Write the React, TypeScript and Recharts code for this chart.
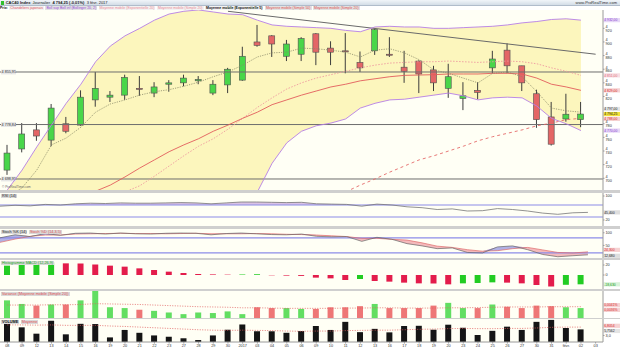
import React from 'react';
import { ComposedChart, Bar, Line, Area, XAxis, YAxis, ReferenceLine, Cell } from 'recharts';

// trading days, the last slot ("03") stays empty like in the original
const dayLabels = ['08', '09', '12', '13', '14', '15', '16', '19', '20', '21', '22', '23', '27', '28', '29', '30', '2017', '03', '04', '05', '06', '09', '10', '11', '12', '13', '16', '17', '18', '19', '20', '23', '24', '25', '26', '27', '30', '31', 'févr.', '02', '03'];

const opens = [4712, 4743, 4771, 4756, 4780, 4778, 4815, 4819, 4822, 4832, 4825, 4838, 4840, 4843, 4825, 4837, 4844, 4900, 4909, 4879, 4882, 4912, 4891, 4887, 4870, 4887, 4882, 4863, 4872, 4859, 4832, 4817, 4829, 4862, 4888, 4865, 4824, 4790, 4787, 4786];
const closes = [4737, 4765, 4762, 4803, 4769, 4819, 4832, 4822, 4848, 4831, 4834, 4840, 4847, 4845, 4838, 4860, 4879, 4895, 4897, 4897, 4905, 4885, 4885, 4886, 4862, 4918, 4881, 4857, 4853, 4840, 4849, 4821, 4826, 4875, 4865, 4840, 4786, 4750, 4794, 4794.25];
const highs = [4749, 4781, 4781, 4809, 4790, 4829, 4856, 4828, 4852, 4850, 4841, 4844, 4852, 4850, 4844, 4862, 4893, 4925, 4910, 4903, 4907, 4913, 4901, 4913, 4886, 4920, 4907, 4887, 4873, 4865, 4868, 4841, 4841, 4887, 4898, 4865, 4830, 4812, 4824, 4812];
const lows = [4705, 4738, 4755, 4747, 4766, 4777, 4805, 4812, 4815, 4821, 4819, 4827, 4835, 4838, 4822, 4825, 4843, 4893, 4878, 4872, 4872, 4866, 4866, 4854, 4856, 4881, 4878, 4840, 4825, 4828, 4818, 4800, 4816, 4854, 4854, 4828, 4774, 4748, 4783, 4775];

const bbUpper = [4683, 4712, 4746, 4778, 4810, 4838, 4871, 4894, 4909, 4920, 4932, 4941, 4945, 4947, 4944, 4941, 4940, 4932, 4925, 4923, 4922, 4921, 4920, 4917, 4915, 4922, 4923, 4922, 4922, 4920, 4920, 4921, 4922, 4923, 4925, 4928, 4930, 4933, 4934, 4932];
const bbMiddle = [4590, 4600, 4612, 4625, 4637, 4650, 4662, 4672, 4680, 4689, 4703, 4718, 4733, 4747, 4758, 4772, 4788, 4804, 4818, 4831, 4840, 4847, 4852, 4857, 4862, 4866, 4869, 4870, 4871, 4871, 4872, 4871, 4870, 4871, 4872, 4871, 4868, 4862, 4857, 4851];
const bbLower = [4497, 4488, 4478, 4472, 4464, 4462, 4453, 4450, 4451, 4458, 4474, 4495, 4521, 4547, 4572, 4603, 4636, 4680, 4722, 4752, 4769, 4777, 4781, 4787, 4803, 4810, 4815, 4816, 4819, 4822, 4825, 4821, 4815, 4818, 4819, 4818, 4806, 4788, 4780, 4770];
const ema20 = [4620, 4632, 4643, 4655, 4664, 4674, 4681, 4690, 4702, 4715, 4727, 4739, 4749, 4758, 4769, 4778, 4788, 4797, 4808, 4815, 4822, 4828, 4834, 4838, 4843, 4846, 4849, 4851, 4851.5, 4852, 4853, 4853, 4853, 4854, 4854, 4853, 4847, 4838, 4834, 4829];
const ema5 = [4672, 4686, 4712, 4749, 4759, 4775, 4797, 4809, 4815, 4822, 4827, 4830, 4835, 4841, 4849, 4856, 4866, 4878, 4884, 4885, 4891, 4890, 4888, 4885, 4878, 4888, 4890, 4884, 4874, 4859, 4854, 4847, 4840, 4854, 4856, 4849, 4827, 4803, 4799, 4797];
const sma50 = [null, null, null, null, null, null, null, null, null, null, null, null, null, null, null, null, null, null, null, null, null, null, null, 4680, 4690, 4699, 4709, 4718, 4727, 4733, 4740, 4747, 4755, 4761, 4766, 4771, 4777, 4781, 4786, 4788];

const levels = [4855.95, 4778.84, 4698.95];
const priceTicks = [4700, 4720, 4740, 4760, 4780, 4820, 4840, 4860, 4880, 4900, 4920];

const rsi = [66, 69, 67, 72, 70, 74, 76, 75, 77, 76, 76, 77, 78, 77, 74, 77, 80, 80, 79, 78, 79, 74, 73, 72, 66, 73, 70, 64, 61, 55, 57, 50, 51, 58, 55, 50, 43, 39, 44, 45.4];
const stochK = [80, 92, 85, 97, 90, 98, 99, 95, 99, 96, 95, 98, 99, 98, 92, 97, 99, 96, 93, 92, 95, 86, 84, 85, 66, 82, 74, 57, 48, 37, 40, 22, 20, 44, 48, 33, 14, 5, 9, 12.68];
const stochD = [62, 75, 86, 91, 91, 95, 96, 97, 98, 97, 97, 96, 97, 98, 96, 96, 96, 97, 96, 94, 93, 91, 88, 85, 78, 78, 74, 71, 60, 47, 42, 33, 27, 29, 37, 42, 32, 22, 20, 24.3];
const macdHist = [18.7, 21.3, 22, 25.3, 23.3, 23, 21, 18.7, 16.7, 13.3, 10, 6.7, 4, 2, 1.2, 0.7, 1.0, 1.3, -0.6, -1.2, -1.8, -5.3, -6.7, -10, -8, -12, -13.3, -15.3, -16.7, -17, -18.7, -16.7, -16, -14.7, -15.3, -16.7, -20, -23, -19.6, -18.63];
const variance = [0.0064, 0.0051, 0.0045, 0.0049, 0.0049, 0.0064, 0.0101, 0.0039, 0.0036, 0.003, 0.0026, 0.002, 0.0014, 0.002, 0.0018, 0.0024, 0.0014, 0.0039, 0.0036, 0.0036, 0.0033, 0.0033, 0.0039, 0.0039, 0.0043, 0.0051, 0.0036, 0.0036, 0.0036, 0.0045, 0.0055, 0.0036, 0.0036, 0.0049, 0.0041, 0.0036, 0.0045, 0.0043, 0.0039, 0.0036];
const varianceAvg = [0.0047, 0.0047, 0.0047, 0.0048, 0.0048, 0.0049, 0.0052, 0.0051, 0.005, 0.0049, 0.0047, 0.0045, 0.0043, 0.0041, 0.004, 0.0039, 0.0037, 0.0037, 0.0036, 0.0035, 0.0035, 0.0035, 0.0035, 0.0036, 0.0036, 0.0037, 0.0037, 0.0036, 0.0036, 0.0036, 0.0037, 0.0037, 0.0038, 0.0039, 0.004, 0.004, 0.004, 0.0041, 0.0041, 0.0041];
const volume = [8.6, 6.7, 3.8, 9.7, 3.5, 8.3, 8.2, 2.1, 5.5, 4.2, 3.0, 2.4, 1.7, 0.9, 3.0, 5.6, 8.0, 4.9, 4.9, 4.2, 5.0, 7.3, 5.5, 9.2, 4.5, 6.0, 4.4, 7.3, 7.4, 5.6, 7.9, 6.5, 3.2, 5.1, 7.0, 5.5, 9.2, 10.1, 6.4, 5.7562];
const volumeAvg = [7.8, 7.8, 7.7, 7.8, 7.6, 7.6, 7.6, 7.3, 7.1, 6.8, 6.5, 6.2, 5.9, 5.6, 5.4, 5.3, 5.4, 5.3, 5.2, 5.0, 4.9, 5.0, 5.0, 5.2, 5.3, 5.4, 5.4, 5.6, 5.8, 5.9, 6.1, 6.2, 6.1, 6.1, 6.2, 6.2, 6.4, 6.7, 6.8, 6.8054];

const PLOT_W = 603;
const FONT = '"Liberation Sans", Arial, sans-serif';
const last = 39;

const fr = (v: number, d = 2) => {
  const [i, f] = Math.abs(v).toFixed(d).split('.');
  return (v < 0 ? '-' : '') + i.replace(/\B(?=(\d{3})+(?!\d))/g, ' ') + (f ? ',' + f : '');
};

const rows = dayLabels.map((label, i) => ({
  idx: i,
  label,
  open: opens[i],
  high: highs[i],
  low: lows[i],
  close: closes[i],
  bbUp: bbUpper[i],
  bbMid: bbMiddle[i],
  bbLow: bbLower[i],
  ema20: ema20[i],
  ema5: ema5[i],
  sma50: sma50[i] ?? undefined,
  rsi: rsi[i],
  k: stochK[i],
  d: stochD[i],
  macd: macdHist[i],
  vari: variance[i],
  variAvg: varianceAvg[i],
  vol: volume[i],
  volAvg: volumeAvg[i],
}));

const Candle = (props: any) => {
  const { x, y, width, height, payload } = props;
  if (!payload || payload.open == null || x == null) return null;
  const { open, close, high, low } = payload;
  const top = Math.min(y, y + height);
  const h = Math.abs(height);
  const ppu = high === low ? 0 : h / (high - low);
  const cx = x + width / 2;
  const bodyTop = top + (high - Math.max(open, close)) * ppu;
  const bodyH = Math.max(1, Math.abs(open - close) * ppu);
  const up = close >= open;
  return (
    <g>
      <line x1={cx} x2={cx} y1={top} y2={top + h} stroke="#3c3c3c" strokeWidth={1} />
      <rect x={cx - 3} y={bodyTop} width={6} height={bodyH} fill={up ? '#49d649' : '#e46666'} stroke="#505050" strokeWidth={0.6} />
    </g>
  );
};

// value tag drawn in the right axis column (dy nudges crowded tags apart)
const Badge = ({ viewBox, text, bg, color, dy = 0 }: any) => {
  if (!viewBox) return null;
  const x = viewBox.x + viewBox.width + 0.5;
  const y = viewBox.y + dy;
  return (
    <g>
      <rect x={x} y={y - 2.1} width={16.5} height={4.2} fill={bg} />
      <text x={x + 0.7} y={y + 1.25} fontSize={3.4} fill={color} fontFamily={FONT}>{text}</text>
    </g>
  );
};

const LevelTag = ({ viewBox, text }: any) => {
  if (!viewBox) return null;
  return (
    <g>
      <rect x={viewBox.x + 1} y={viewBox.y - 2.4} width={15} height={4.8} fill="#e6e6e6" />
      <text x={viewBox.x + 1.6} y={viewBox.y + 1.4} fontSize={3.7} fill="#333" fontFamily={FONT}>{text}</text>
    </g>
  );
};

const axisProps = {
  orientation: 'right' as const,
  width: 17,
  allowDataOverflow: true,
  tick: { fontSize: 3.8, fill: '#333', fontFamily: FONT },
  tickSize: 1.5,
  tickMargin: 1,
  axisLine: { stroke: '#9a9a9a' },
  tickLine: { stroke: '#9a9a9a' },
};
const margin = { top: 0, right: 0, bottom: 0, left: 0 };

function Panel({ top, height, plotH, children }: any) {
  return (
    <div style={{ position: 'absolute', left: 0, top, width: 620, height, background: '#ffffff' }}>
      <div style={{ position: 'absolute', left: 0, top: 0, width: PLOT_W, height: plotH ?? height, background: '#fffff5' }} />
      <div style={{ position: 'absolute', left: 0, top: 0 }}>{children}</div>
    </div>
  );
}

const tagStyle = (color: string, bg = '#d9d9d9'): React.CSSProperties => ({
  background: bg,
  color,
  padding: '0 1px',
  marginRight: 1.5,
});

function PanelTitle({ top, children }: any) {
  return (
    <div style={{ position: 'absolute', left: 1, top, fontSize: 3.8, lineHeight: '4.6px', whiteSpace: 'nowrap', fontFamily: FONT }}>
      {children}
    </div>
  );
}

export default function App() {
  const priceBand = (r: any) => (r.bbUp == null ? null : [r.bbLow, r.bbUp]);
  const candleRange = (r: any) => (r.high == null ? null : [r.low, r.high]);
  const rsiFill = (r: any) => (r.rsi == null ? null : [70, Math.max(70, r.rsi)]);
  const stochPink = (r: any) => (r.k == null ? null : [r.k, Math.max(r.k, r.d)]);
  const stochBlue = (r: any) => (r.k == null ? null : [r.d, Math.max(r.k, r.d)]);

  return (
    <div style={{ position: 'absolute', left: 0, top: 0, width: 620, height: 349, background: '#cfcfcf', fontFamily: FONT, overflow: 'hidden' }}>
      {/* header */}
      <div style={{ position: 'absolute', left: 0, top: 0, width: 620, height: 6, background: 'linear-gradient(#f1f5f9,#d3dde7)', borderBottom: '0.5px solid #b0bccb', boxSizing: 'border-box', fontSize: 4, lineHeight: '6px', color: '#1e1e1e', whiteSpace: 'nowrap' }}>
        <span style={{ display: 'inline-block', width: 3.2, height: 3.2, background: '#2fbf2f', margin: '0 1.5px 0 1px', verticalAlign: 'middle' }} />
        <b>CAC40 Index</b>&nbsp;&nbsp;Journalier&nbsp;&nbsp;<b>4 794,25 (-0,01%)</b>&nbsp;&nbsp;3 févr. 2017
        <span style={{ position: 'absolute', right: 3, top: 0, color: '#333' }}>www.ProRealTime.com</span>
      </div>
      {/* legend row */}
      <div style={{ position: 'absolute', left: 0, top: 6, width: 620, height: 4, background: '#ffffff', fontSize: 3.5, lineHeight: '4px', whiteSpace: 'nowrap', overflow: 'hidden' }}>
        <b style={{ marginRight: 1.5 }}>Prix:</b>
        <span style={tagStyle('#e0505a', '#f2f2f2')}>Chandeliers japonais</span>
        <span style={tagStyle('#9a4fd6', '#e2e2e2')}>Boll sup Boll inf (Bollinger 20, 2)</span>
        <span style={tagStyle('#ec8a96', '#f2f2f2')}>Moyenne mobile (Exponentielle 20)</span>
        <span style={tagStyle('#ec8a96', '#f2f2f2')}>Moyenne mobile (Simple 20)</span>
        <b style={tagStyle('#111', '#f2f2f2')}>Moyenne mobile (Exponentielle 5)</b>
        <span style={tagStyle('#e05050', '#e2e2e2')}>Moyenne mobile (Simple 50)</span>
        <span style={tagStyle('#e05050', '#e2e2e2')}>Moyenne mobile (Simple 20)</span>
      </div>

      {/* price panel */}
      <Panel top={10} height={180}>
        <ComposedChart width={620} height={180} data={rows} margin={margin}>
          <XAxis dataKey="idx" hide />
          <YAxis {...axisProps} domain={[4682.8, 4946.9]} ticks={priceTicks} tickFormatter={(v: number) => fr(v, 0)} />
          <Area dataKey={priceBand} fill="#fcf6bd" fillOpacity={1} stroke="none" isAnimationActive={false} />
          {levels.map((lv) => (
            <ReferenceLine key={lv} y={lv} stroke="#6e6e6e" strokeWidth={1} label={<LevelTag text={fr(lv)} />} />
          ))}
          <ReferenceLine segment={[{ x: 15, y: 4945 }, { x: 40, y: 4882 }]} stroke="#6a6a6a" strokeWidth={1} />
          <Line dataKey="bbUp" stroke="#b57ee5" strokeWidth={0.9} dot={false} isAnimationActive={false} />
          <Line dataKey="bbLow" stroke="#b57ee5" strokeWidth={0.9} dot={false} isAnimationActive={false} />
          <Line dataKey="bbMid" stroke="#ee9aa0" strokeWidth={0.9} strokeDasharray="1.5 1.5" dot={false} isAnimationActive={false} />
          <Line dataKey="ema20" stroke="#e25c5c" strokeWidth={0.9} dot={false} isAnimationActive={false} />
          <Line dataKey="sma50" stroke="#e46a6a" strokeWidth={0.9} strokeDasharray="3 3" dot={false} isAnimationActive={false} />
          <Line dataKey="ema5" stroke="#8a8a6a" strokeWidth={0.8} strokeDasharray="1.2 1.2" dot={false} isAnimationActive={false} />
          <Bar dataKey={candleRange} barSize={6} shape={(p: any) => <Candle {...p} />} isAnimationActive={false} />
          <ReferenceLine y={bbUpper[last]} stroke="none" label={<Badge text={fr(bbUpper[last])} bg="#e6d6f6" color="#8a3fd0" />} />
          <ReferenceLine y={bbMiddle[last]} stroke="none" label={<Badge text={fr(bbMiddle[last])} bg="#f8dde2" color="#e0707e" />} />
          <ReferenceLine y={ema20[last]} stroke="none" label={<Badge text={fr(ema20[last])} bg="#f6d2d2" color="#d42a2a" />} />
          <ReferenceLine y={ema5[last]} stroke="none" label={<Badge text={fr(ema5[last])} bg="#e4e4e4" color="#222" dy={-3.2} />} />
          <ReferenceLine y={closes[last]} stroke="none" label={<Badge text={fr(closes[last])} bg="#f3e23c" color="#111" />} />
          <ReferenceLine y={sma50[last] as number} stroke="none" label={<Badge text={fr(sma50[last] as number)} bg="#f6d2d2" color="#d42a2a" dy={0.6} />} />
          <ReferenceLine y={bbLower[last]} stroke="none" label={<Badge text={fr(bbLower[last])} bg="#e6d6f6" color="#8a3fd0" />} />
        </ComposedChart>
        <div style={{ position: 'absolute', left: 2, top: 175, fontSize: 3.2, color: '#666' }}>© ProRealTime.com</div>
      </Panel>

      {/* RSI */}
      <Panel top={193} height={33}>
        <ComposedChart width={620} height={33} data={rows} margin={margin}>
          <XAxis dataKey="idx" hide />
          <YAxis {...axisProps} domain={[0, 110]} ticks={[0, 20, 80, 100]} />
          <Area dataKey={rsiFill} fill="#c9a8de" fillOpacity={0.7} stroke="none" isAnimationActive={false} />
          <ReferenceLine y={70} stroke="#8c8ce8" strokeWidth={1.2} />
          <ReferenceLine y={30} stroke="#8c8ce8" strokeWidth={1.2} />
          <Line dataKey="rsi" stroke="#767676" strokeWidth={0.8} dot={false} isAnimationActive={false} />
          <ReferenceLine y={rsi[last]} stroke="none" label={<Badge text={fr(rsi[last], 3)} bg="#dedede" color="#222" />} />
        </ComposedChart>
        <PanelTitle top={1}><span style={tagStyle('#222')}>RSI (14)</span></PanelTitle>
      </Panel>

      {/* Stochastic */}
      <Panel top={229} height={29}>
        <ComposedChart width={620} height={29} data={rows} margin={margin}>
          <XAxis dataKey="idx" hide />
          <YAxis {...axisProps} domain={[0, 115]} ticks={[50, 80, 100]} />
          <Area dataKey={stochPink} fill="#f3b3b6" fillOpacity={0.9} stroke="none" isAnimationActive={false} />
          <Area dataKey={stochBlue} fill="#a9a9e2" fillOpacity={0.9} stroke="none" isAnimationActive={false} />
          <ReferenceLine y={80} stroke="#8c8ce8" strokeWidth={1.2} />
          <ReferenceLine y={20} stroke="#8c8ce8" strokeWidth={1.2} />
          <Line dataKey="d" stroke="#e06a6a" strokeWidth={0.7} dot={false} isAnimationActive={false} />
          <Line dataKey="k" stroke="#666" strokeWidth={0.7} dot={false} isAnimationActive={false} />
          <ReferenceLine y={stochD[last]} stroke="none" label={<Badge text={fr(stochD[last], 3)} bg="#f6d2d2" color="#d42a2a" dy={-2} />} />
          <ReferenceLine y={stochK[last]} stroke="none" label={<Badge text={fr(stochK[last], 3)} bg="#dedede" color="#222" dy={1} />} />
        </ComposedChart>
        <PanelTitle top={1}>
          <span style={tagStyle('#222')}>Stoch %K (14)</span>
          <span style={tagStyle('#e05050')}>Stoch %D (14,3,5)</span>
        </PanelTitle>
      </Panel>

      {/* MACD histogram */}
      <Panel top={260} height={29}>
        <ComposedChart width={620} height={29} data={rows} margin={margin}>
          <XAxis dataKey="idx" hide />
          <YAxis {...axisProps} domain={[-28, 30]} ticks={[-10, 0, 10, 20]} />
          <Bar dataKey="macd" barSize={6} isAnimationActive={false}>
            {rows.map((r, i) => (
              <Cell key={i} fill={i === 0 || (r.macd ?? 0) >= (macdHist[i - 1] ?? 0) ? '#22cc22' : '#e31c4b'} />
            ))}
          </Bar>
          <ReferenceLine y={macdHist[last]} stroke="none" label={<Badge text={fr(macdHist[last], 3)} bg="#d8f3d8" color="#169816" />} />
        </ComposedChart>
        <PanelTitle top={1}><span style={tagStyle('#1aa81a')}>Histogramme MACD (12,26,9)</span></PanelTitle>
      </Panel>

      {/* variance */}
      <Panel top={291} height={27}>
        <ComposedChart width={620} height={27} data={rows} margin={margin}>
          <XAxis dataKey="idx" hide />
          <YAxis {...axisProps} domain={[0, 0.0098]} ticks={[0.008]} tickFormatter={(v: number) => fr(v, 3) + '%'} />
          <Bar dataKey="vari" barSize={6} isAnimationActive={false}>
            {rows.map((r, i) => (
              <Cell key={i} fill={(closes[i] ?? 0) >= (opens[i] ?? 0) ? '#62de62' : '#ee7676'} />
            ))}
          </Bar>
          <Line dataKey="variAvg" stroke="#e06060" strokeWidth={0.8} strokeDasharray="1 1.5" dot={false} isAnimationActive={false} />
          <ReferenceLine y={varianceAvg[last]} stroke="none" label={<Badge text={fr(varianceAvg[last], 4) + '%'} bg="#f6d2d2" color="#d42a2a" dy={-1.6} />} />
          <ReferenceLine y={variance[last]} stroke="none" label={<Badge text={fr(variance[last], 4) + '%'} bg="#f6d2d2" color="#d42a2a" dy={1.8} />} />
        </ComposedChart>
        <PanelTitle top={1}><span style={tagStyle('#e05050')}>Variance (Moyenne mobile (Simple 20))</span></PanelTitle>
      </Panel>

      {/* volume + date axis */}
      <Panel top={319} height={30} plotH={23}>
        <ComposedChart width={620} height={30} data={rows} margin={margin}>
          <XAxis dataKey="idx" height={7} interval={0} tickFormatter={(v: number) => dayLabels[v]} tick={{ fontSize: 3.8, fill: '#333', fontFamily: FONT }} tickSize={1.5} tickMargin={0.5} axisLine={{ stroke: '#9a9a9a' }} tickLine={{ stroke: '#9a9a9a' }} />
          <YAxis {...axisProps} domain={[0, 10.5]} ticks={[3]} tickFormatter={(v: number) => fr(v, 1)} />
          <Bar dataKey="vol" barSize={6} fill="#151515" isAnimationActive={false} />
          <Line dataKey="volAvg" stroke="#e05a5a" strokeWidth={0.8} strokeDasharray="1 1.5" dot={false} isAnimationActive={false} />
          <ReferenceLine y={volumeAvg[last]} stroke="none" label={<Badge text={fr(volumeAvg[last], 4)} bg="#f6d2d2" color="#d42a2a" dy={-1.3} />} />
          <ReferenceLine y={volume[last]} stroke="none" label={<Badge text={fr(volume[last], 4)} bg="#e4e4e4" color="#222" dy={1.6} />} />
        </ComposedChart>
        <PanelTitle top={1}>
          <b style={tagStyle('#111')}>VOLUME</b>
          <span style={tagStyle('#e05050')}>Moyenne</span>
        </PanelTitle>
      </Panel>
    </div>
  );
}
